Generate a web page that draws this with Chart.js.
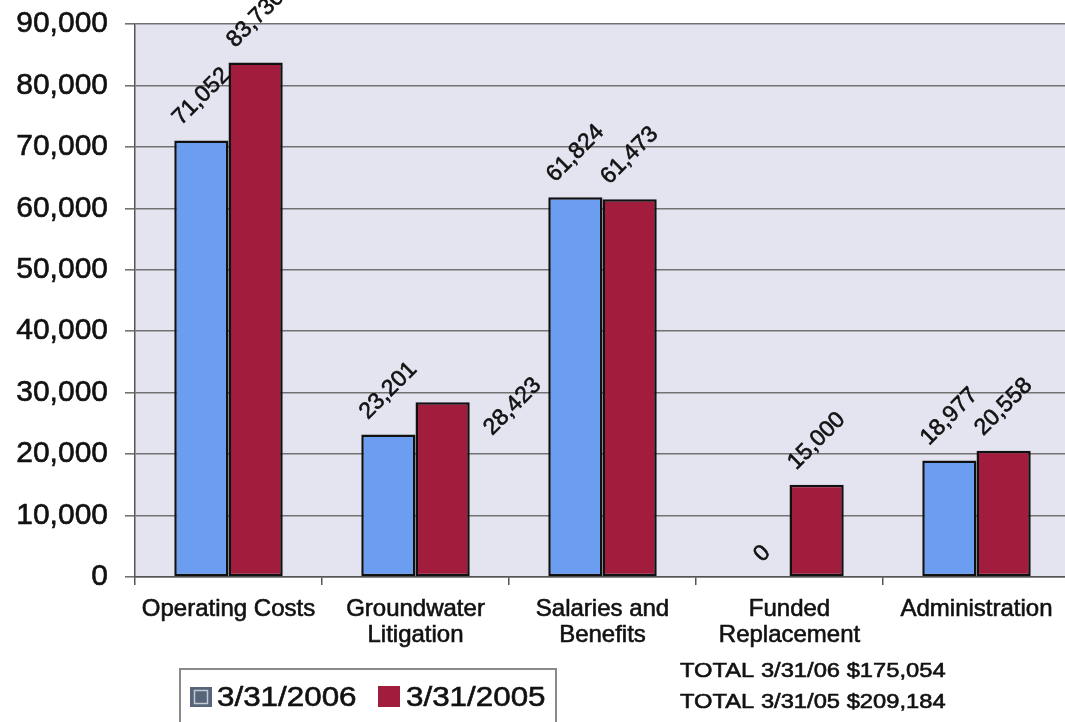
<!DOCTYPE html>
<html>
<head>
<meta charset="utf-8">
<title>Expenses 3/31/2006 vs 3/31/2005</title>
<script src="https://cdn.jsdelivr.net/npm/chart.js@4/dist/chart.umd.min.js"></script>
<style>
  html, body { margin: 0; padding: 0; background: #ffffff; overflow: hidden; }
  #frame { width: 1065px; height: 722px; overflow: hidden; position: relative; }
  #wrap { width: 1070px; height: 722px; position: absolute; left: 0; top: 0; }
</style>
</head>
<body>
<div id="frame"><div id="wrap"><canvas id="chart"></canvas></div></div>
<script>
// Expense categories and yearly amounts
const categories = [
  'Operating Costs',
  ['Groundwater', 'Litigation'],
  ['Salaries and', 'Benefits'],
  ['Funded', 'Replacement'],
  'Administration'
];
const seriesNames = ['3/31/2006', '3/31/2005'];
const values2006 = [71052, 23201, 61824, 0, 18977];
const values2005 = [83730, 28423, 61473, 15000, 20558];
const yTickLabels = ['0', '10,000', '20,000', '30,000', '40,000', '50,000',
                     '60,000', '70,000', '80,000', '90,000'];
const totalLabels = ['TOTAL 3/31/06', 'TOTAL 3/31/05'];

const FONT = "'Liberation Sans', Arial, Helvetica, sans-serif";
const BLUE = '#6b9ef0';
const RED = '#a21c3e';
const PLOT_BG = '#e4e4f1';
const INK = '#111111';

const sum = arr => arr.reduce((a, b) => a + b, 0);
const fmt = v => v.toLocaleString('en-US');

// Shaded plot area behind grid and bars
const plotBackground = {
  id: 'plotBackground',
  beforeDraw(chart) {
    const { ctx, chartArea: a } = chart;
    ctx.save();
    ctx.fillStyle = PLOT_BG;
    ctx.fillRect(a.left, a.top, a.right - a.left, a.bottom - a.top);
    ctx.restore();
  }
};

// Text with a faint outline so strokes read a little heavier
function inkText(ctx, text, x, y) {
  ctx.strokeStyle = INK;
  ctx.lineWidth = 0.6;
  ctx.strokeText(text, x, y);
  ctx.fillText(text, x, y);
}

// Rotated value labels above each bar
const valueLabels = {
  id: 'valueLabels',
  afterDatasetsDraw(chart, args, opts) {
    const { ctx } = chart;
    const size = 23;
    ctx.save();
    ctx.font = size + 'px ' + FONT;
    ctx.fillStyle = INK;
    ctx.textAlign = 'center';
    ctx.textBaseline = 'middle';
    chart.data.datasets.forEach((ds, di) => {
      const meta = chart.getDatasetMeta(di);
      meta.data.forEach((bar, i) => {
        const text = fmt(ds.data[i]);
        const w = ctx.measureText(text).width;
        const box = (w + size * 0.72) / Math.SQRT2;
        const shift = (opts.shift || {})[di + ':' + i] || [0, 0];
        const cx = bar.x + shift[0];
        const cy = bar.y - 13 - box / 2 + shift[1];
        ctx.save();
        ctx.translate(cx, cy);
        ctx.rotate(-Math.PI / 4);
        inkText(ctx, text, 0, 0);
        ctx.restore();
      });
    });
    ctx.restore();
  }
};

// Boxed legend and the totals note under the chart
const footer = {
  id: 'footer',
  afterDraw(chart) {
    const { ctx } = chart;
    ctx.save();
    // legend frame
    ctx.fillStyle = '#ffffff';
    ctx.fillRect(180, 669, 376, 60);
    ctx.strokeStyle = '#8a8a8a';
    ctx.lineWidth = 2;
    ctx.strokeRect(180, 669, 376, 60);

    // first swatch
    ctx.fillStyle = '#56657a';
    ctx.fillRect(190, 687, 22, 20);
    ctx.strokeStyle = '#c3cad3';
    ctx.lineWidth = 1.5;
    ctx.strokeRect(194.5, 690.5, 13, 13);
    // second swatch
    ctx.fillStyle = RED;
    ctx.fillRect(378, 686, 22, 21);

    ctx.fillStyle = INK;
    ctx.textBaseline = 'alphabetic';
    ctx.textAlign = 'left';
    ctx.font = '28px ' + FONT;
    const drawWide = (text, x, y, sx) => {
      ctx.save();
      ctx.translate(x, y);
      ctx.scale(sx, 1);
      inkText(ctx, text, 0, 0);
      ctx.restore();
    };
    drawWide(chart.data.datasets[0].label, 217, 706, 1.12);
    drawWide(chart.data.datasets[1].label, 406, 706, 1.12);

    // totals
    ctx.font = '21px ' + FONT;
    drawWide(totalLabels[0] + ' $' + fmt(sum(values2006)), 680, 677, 1.13);
    drawWide(totalLabels[1] + ' $' + fmt(sum(values2005)), 680, 708, 1.13);
    ctx.restore();
  }
};

new Chart(document.getElementById('chart'), {
  type: 'bar',
  data: {
    labels: categories,
    datasets: [
      { label: seriesNames[0], data: values2006, backgroundColor: BLUE,
        borderColor: '#111', borderWidth: 2.5, borderSkipped: false },
      { label: seriesNames[1], data: values2005, backgroundColor: RED,
        borderColor: '#111', borderWidth: 2.5, borderSkipped: false }
    ]
  },
  options: {
    responsive: true,
    maintainAspectRatio: false,
    animation: false,
    devicePixelRatio: 1,
    layout: { padding: { top: 24, left: 0, right: 0, bottom: 0 } },
    datasets: { bar: { categoryPercentage: 0.58, barPercentage: 1.0 } },
    plugins: {
      legend: { display: false },
      tooltip: { enabled: false },
      valueLabels: { shift: { '1:1': [70, 48] } }
    },
    scales: {
      x: {
        grid: { display: true, drawOnChartArea: false, drawTicks: true,
                tickLength: 8, color: '#555', lineWidth: 1.5, offset: true },
        border: { display: true, color: '#555', width: 1.5 },
        ticks: { font: { family: FONT, size: 24, lineHeight: 1.06 }, color: INK,
                 textStrokeColor: INK, textStrokeWidth: 0.6,
                 padding: 12, maxRotation: 0, minRotation: 0, autoSkip: false },
        afterFit(scale) { scale.height = 145; }
      },
      y: {
        min: 0, max: 90000,
        grid: { color: '#727272', lineWidth: 1.6, tickLength: 10, drawTicks: true },
        border: { display: true, color: '#555', width: 1.5 },
        ticks: { stepSize: 10000, font: { family: FONT, size: 30 }, color: INK,
                 textStrokeColor: INK, textStrokeWidth: 0.6,
                 padding: 17, callback: (v, i) => yTickLabels[i] },
        afterFit(scale) {
          scale.width = 135;
          scale.paddingTop = 0;
          scale.paddingBottom = 0;
        }
      }
    }
  },
  plugins: [plotBackground, valueLabels, footer]
});
</script>
</body>
</html>
